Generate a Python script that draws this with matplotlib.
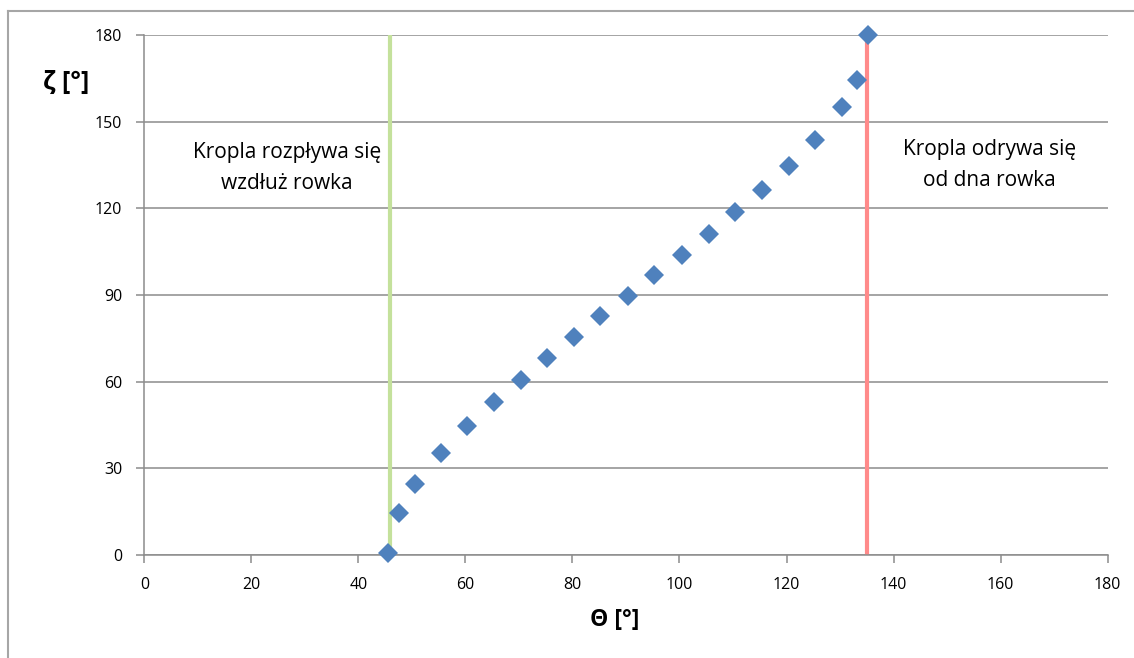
import matplotlib.pyplot as plt
from matplotlib.lines import Line2D

theta = [45.6, 47.5, 50.5, 55.4, 60.3, 65.3, 70.4, 75.3, 80.3, 85.2, 90.3,
         95.3, 100.5, 105.5, 110.4, 115.5, 120.4, 125.4, 130.3, 133.2, 135.2]
zeta = [0.6, 14.6, 24.5, 35.2, 44.7, 53.0, 60.6, 68.2, 75.5, 82.7, 89.5,
        96.8, 103.7, 111.0, 118.7, 126.3, 134.5, 143.6, 155.0, 164.3, 180.0]

theta_spread = 45.9
theta_detach = 135.1

plt.rcParams['font.family'] = ['Open Sans', 'DejaVu Sans']

fig = plt.figure(figsize=(11.34, 6.58), dpi=100)
ax = fig.add_axes([0.1273, 0.1565, 0.8494, 0.7903])

grid_col = '#8c8c8c'
ax.set_xlim(0, 180)
ax.set_ylim(0, 180)
ax.set_xticks(range(0, 181, 20))
ax.set_yticks(range(0, 181, 30))
ax.grid(axis='y', color=grid_col, linewidth=1.1)
ax.set_axisbelow(True)
for s in ['top', 'right']:
    ax.spines[s].set_visible(False)
for s in ['left', 'bottom']:
    ax.spines[s].set_color(grid_col)
    ax.spines[s].set_linewidth(1.1)
ax.tick_params(colors=grid_col, labelcolor='black', labelsize=11.5, length=6, width=1.1)
ax.tick_params(axis='y', pad=10)
ax.tick_params(axis='x', pad=10)

ax.plot([theta_spread, theta_spread], [0, 180], color='#c4e19c', linewidth=3, zorder=2)
ax.plot([theta_detach, theta_detach], [0, 180], color='#ff8a8a', linewidth=3, zorder=2)
ax.plot(theta, zeta, linestyle='none', marker='D', markersize=10, color='#4f81bd',
        markeredgewidth=0, zorder=3, clip_on=False)

ax.text(26.7, 134, 'Kropla rozpływa się\nwzdłuż rowka', ha='center', va='center',
        fontsize=15, linespacing=1.6)
ax.text(158, 135, 'Kropla odrywa się\nod dna rowka', ha='center', va='center',
        fontsize=15, linespacing=1.6)

fig.text(66 / 1134, 1 - 82 / 658, 'ζ [°]', ha='center', va='center',
         fontsize=18, fontweight='bold')
fig.text(615 / 1134, 1 - 620 / 658, 'Θ [°]', ha='center', va='center',
         fontsize=16.5, fontweight='bold')

# outer chart frame
frame_col = '#a6a6a6'
fig.add_artist(Line2D([8 / 1134, 8 / 1134], [0, 1 - 11 / 658], color=frame_col, linewidth=1.5))
fig.add_artist(Line2D([8 / 1134, 1], [1 - 11 / 658, 1 - 11 / 658], color=frame_col, linewidth=1.5))

fig.savefig('out.png', dpi=100)
